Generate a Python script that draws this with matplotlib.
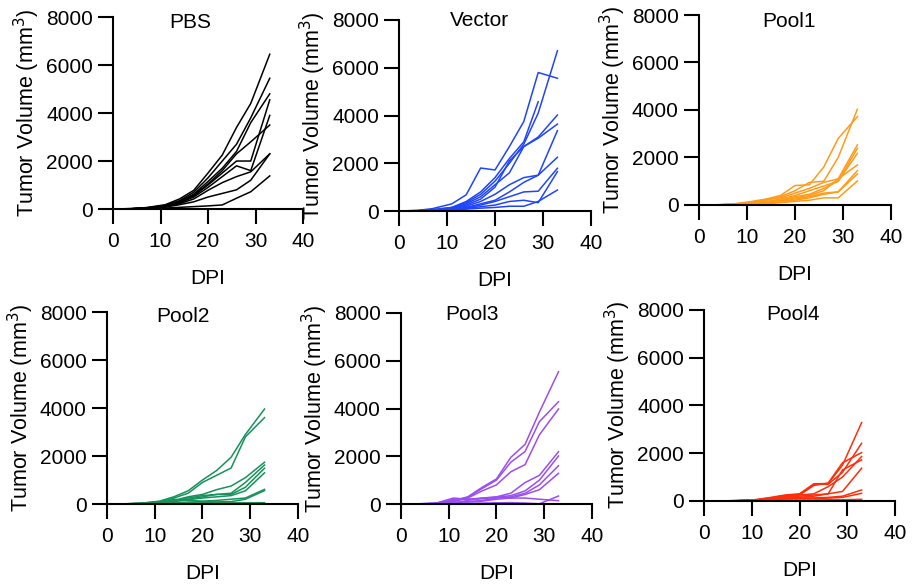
import numpy as np
import matplotlib
matplotlib.use('Agg')
import matplotlib.pyplot as plt

plt.rcParams['font.family'] = ['Liberation Sans', 'DejaVu Sans']

# 측정일 (DPI)
days = [0, 4, 7, 11, 14, 17, 20, 23, 26, 29, 33]
nan = np.nan

# 그룹별 종양 부피 (mm^3), 마우스 1마리 = 1줄
pbs = [
    [0, 20, 60, 180, 420, 780, 1500, 2250, 3400, 4400, 6450],
    [0, 15, 50, 150, 350, 700, 1300, 2000, 2700, 3800, 5450],
    [0, 15, 45, 140, 320, 620, 1150, 1700, 2400, 3600, 4800],
    [0, 10, 40, 120, 280, 550, 1000, 1500, 2000, 2000, 4550],
    [0, 12, 40, 130, 300, 580, 1050, 1600, 2300, 2800, 3500],
    [0, 10, 35, 110, 250, 500, 900, 1350, 1800, 1600, 3900],
    [0, 10, 30, 100, 220, 420, 780, 1100, 1350, 1550, 2300],
    [0, 8, 25, 80, 180, 300, 500, 650, 800, 1200, 2300],
    [0, 5, 15, 40, 70, 100, 130, 170, 450, 720, 1380],
]
vector = [
    [0, 30, 100, 300, 680, 1800, 1720, 2700, 3750, 5800, 5560],
    [0, 15, 50, 150, 350, 700, 1250, 2000, 2800, 4100, 6710],
    [0, 15, 50, 150, 400, 800, 1400, 2200, 2900, 4580, nan],
    [0, 10, 40, 120, 300, 600, 1100, 1600, 2700, 3100, 4020],
    [0, 10, 35, 110, 250, 500, 1000, 2100, 2700, 3050, 3640],
    [0, 8, 30, 90, 200, 400, 700, 1100, 1400, 1500, 3365],
    [0, 8, 25, 70, 150, 300, 450, 800, 1200, 1500, 2250],
    [0, 5, 20, 60, 120, 250, 400, 600, 800, 830, 1790],
    [0, 5, 15, 50, 100, 180, 250, 400, 450, 350, 1650],
    [0, 5, 15, 40, 80, 120, 150, 200, 200, 400, 880],
]
pool1 = [
    [0, 10, 40, 150, 250, 400, 820, 850, 1600, 2800, 3720],
    [0, 10, 30, 100, 200, 350, 600, 950, 1000, 2000, 4030],
    [0, 10, 30, 120, 230, 300, 500, 700, 950, 1100, 2530],
    [0, 5, 25, 80, 150, 250, 400, 600, 800, 1000, 2385],
    [0, 5, 20, 70, 120, 200, 350, 450, 700, 1000, 2175],
    [0, 5, 20, 60, 100, 180, 300, 400, 600, 1100, 1685],
    [0, 5, 15, 50, 80, 150, 250, 350, 500, 550, 1445],
    [0, 5, 15, 40, 70, 120, 200, 300, 450, 550, 1305],
    [0, 3, 10, 30, 50, 100, 150, 200, 300, 300, 1010],
]
pool2 = [
    [0, 10, 30, 120, 300, 550, 1000, 1400, 1950, 2900, 3960],
    [0, 10, 30, 100, 250, 450, 900, 1200, 1500, 2800, 3600],
    [0, 8, 25, 80, 150, 300, 400, 600, 750, 1100, 1740],
    [0, 8, 20, 70, 130, 200, 300, 400, 450, 900, 1625],
    [0, 5, 20, 60, 120, 250, 350, 400, 400, 700, 1490],
    [0, 5, 15, 50, 100, 180, 250, 300, 350, 550, 1300],
    [0, 5, 15, 40, 200, 150, 120, 150, 200, 250, 610],
    [0, 3, 10, 20, 30, 40, 50, 50, 50, 50, 55],
    [0, 5, 10, 30, 60, 80, 100, 90, 100, 200, 560],
]
pool3 = [
    [0, 10, 30, 150, 300, 700, 1050, 1950, 2500, 3850, 5540],
    [0, 10, 30, 130, 280, 650, 1000, 1750, 2200, 3450, 4285],
    [0, 10, 25, 100, 250, 550, 800, 1350, 1650, 2900, 3980],
    [0, 5, 20, 60, 150, 250, 300, 450, 900, 1200, 2190],
    [0, 5, 15, 250, 200, 220, 280, 350, 550, 1000, 2010],
    [0, 5, 15, 50, 100, 150, 250, 300, 450, 800, 1605],
    [0, 5, 10, 40, 80, 120, 200, 250, 400, 600, 1285],
    [0, 5, 10, 200, 200, 250, 280, 250, 250, 200, 140],
    [0, 3, 5, 20, 30, 40, 50, 60, 40, 10, 335],
]
pool4 = [
    [0, 5, 15, 60, 150, 250, 300, 720, 730, 1500, 3280],
    [0, 5, 15, 50, 130, 230, 280, 700, 700, 1200, 2415],
    [0, 5, 15, 50, 120, 200, 250, 650, 750, 1600, 2025],
    [0, 5, 10, 40, 100, 180, 250, 300, 600, 1000, 1860],
    [0, 5, 10, 40, 100, 150, 200, 250, 300, 1300, 1720],
    [0, 3, 10, 30, 80, 120, 150, 200, 300, 400, 1370],
    [0, 3, 10, 30, 60, 100, 120, 130, 150, 200, 460],
    [0, 3, 8, 20, 50, 80, 100, 100, 120, 150, 320],
    [0, 2, 5, 10, 20, 30, 40, 40, 50, 50, 70],
]

groups = ['PBS', 'Vector', 'Pool1', 'Pool2', 'Pool3', 'Pool4']
data = [pbs, vector, pool1, pool2, pool3, pool4]
colors = ['#000000', '#1F45FC', '#FF9B1A', '#15935A', '#9B4DF2', '#FF2D0A']

# 패널 위치 (left, bottom, width, height) 와 제목 위치
boxes = [
    [0.1230, 0.6433, 0.2067, 0.3276],
    [0.4342, 0.6399, 0.2089, 0.3260],
    [0.7606, 0.6502, 0.2089, 0.3242],
    [0.1164, 0.1399, 0.2078, 0.3276],
    [0.4363, 0.1399, 0.2078, 0.3260],
    [0.7661, 0.1451, 0.2078, 0.3260],
]
title_pos = [(0.405, 0.974), (0.42, 0.995), (0.47, 0.965),
             (0.40, 0.976), (0.37, 0.99), (0.466, 0.974)]

fig = plt.figure(figsize=(9.19, 5.86), dpi=100)

for i in range(6):
    ax = fig.add_axes(boxes[i])
    for y in data[i]:
        ax.plot(days, y, color=colors[i], lw=1.1, clip_on=False)
    ax.set_xlim(0, 40)
    ax.set_ylim(0, 8000)
    ax.set_xticks([0, 10, 20, 30, 40])
    ax.set_yticks([0, 2000, 4000, 6000, 8000])
    ax.spines['top'].set_visible(False)
    ax.spines['right'].set_visible(False)
    ax.spines['left'].set_linewidth(1.5)
    ax.spines['bottom'].set_linewidth(1.5)
    ax.tick_params(axis='both', length=10.5, width=1.5, labelsize=15)
    ax.tick_params(axis='x', pad=6)
    ax.tick_params(axis='y', pad=4)
    ax.set_xlabel('DPI', fontsize=15, labelpad=13)
    ax.set_ylabel('Tumor Volume (mm$^3$)', fontsize=15.5, labelpad=3)
    ax.text(title_pos[i][0], title_pos[i][1], groups[i], transform=ax.transAxes,
            ha='center', va='center', fontsize=15)

plt.savefig('out.png', dpi=100)
